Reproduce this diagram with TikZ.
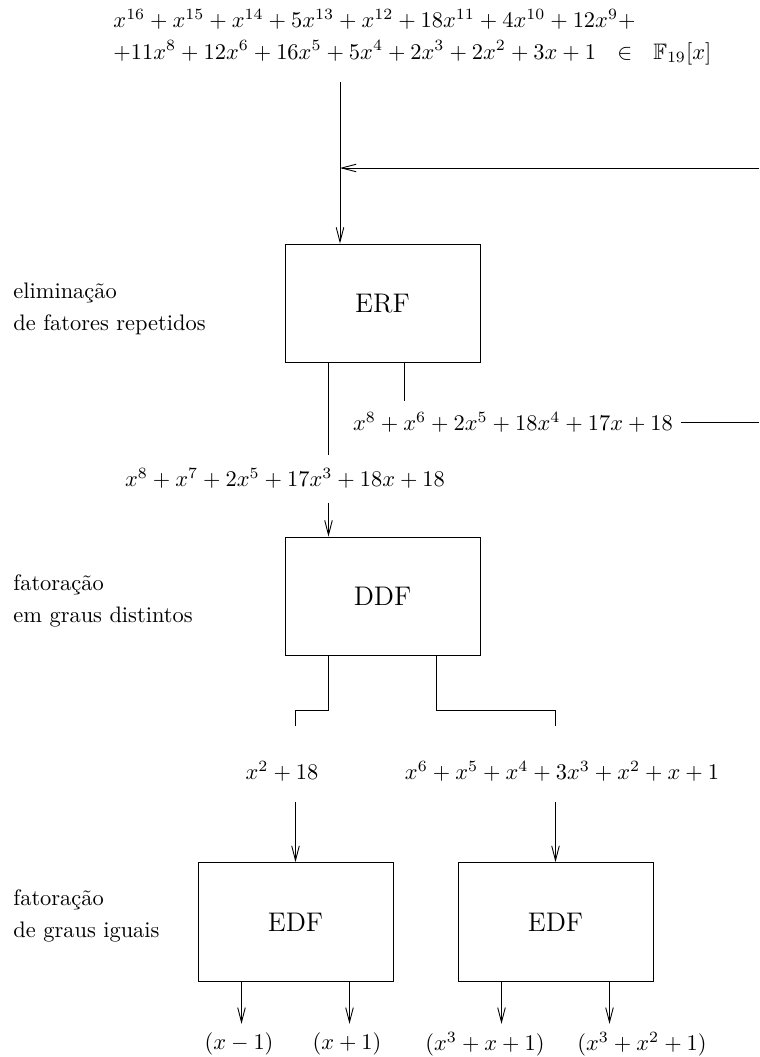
\documentclass[tikz,border=0pt]{standalone}
\usepackage{amsmath}
\usepackage{amssymb}
\usepackage{tikz}
\usetikzlibrary{arrows.meta}

\begin{document}
\begin{tikzpicture}[x=0.446pt,y=-0.446pt,thin,
                    >={Straight Barb[length=6.5pt,width=3.4pt]},
                    algo/.style={draw,minimum width=87pt,minimum height=53pt,inner sep=0pt,font=\large},
                    note/.style={align=left,anchor=west,inner sep=0pt}]
  \useasboundingbox (0,0) rectangle (759,1057);

  % input polynomial and the loop back into ERF
  \node[note] (inpoly) at (113,37)
    {$x^{16}+x^{15}+x^{14}+5x^{13}+x^{12}+18x^{11}+4x^{10}+12x^9+$\\[2pt]
     $+11x^8+12x^6+16x^5+5x^4+2x^3+2x^2+3x+1\ \ \in\ \ \mathbb{F}_{19}[x]$};
  \coordinate (start) at (340,82);
  \coordinate (feed)  at (340,168);
  \coordinate (backr) at (759,168);
  \coordinate (outr)  at (759,422);

  \node[algo] (erf)  at (382.5,303.5) {ERF};
  \node[algo] (ddf)  at (382.5,596.5) {DDF};
  \node[algo] (edfa) at (295.5,922)   {EDF};
  \node[algo] (edfb) at (555.5,922)   {EDF};

  \node[note] (lerf) at (13,309) {eliminação\\[2pt] de fatores repetidos};
  \node[note] (lddf) at (13,601) {fatoração\\[2pt] em graus distintos};
  \node[note] (ledf) at (13,916) {fatoração\\[2pt] de graus iguais};

  \node (rep) at (513,422) {$x^8+x^6+2x^5+18x^4+17x+18$};
  \node (sqf) at (285,478) {$x^8+x^7+2x^5+17x^3+18x+18$};
  \node (fa)  at (282,771) {$x^2+18$};
  \node (fb)  at (562,771) {$x^6+x^5+x^4+3x^3+x^2+x+1$};

  \node (ra) at (239,1044) {$(x-1)$};
  \node (rb) at (347,1044) {$(x+1)$};
  \node (rc) at (485,1044) {$(x^3+x+1)$};
  \node (rd) at (642,1044) {$(x^3+x^2+1)$};

  \draw[->] (start) -- (start |- erf.north);
  \draw[->] (backr) -- (feed);

  % ERF splits off the repeated part
  \draw (erf.south) ++(-54,0) -- ++(0,92);
  \draw (erf.south) ++(21.5,0) -- ++(0,38);
  \draw (rep.east) -- (outr);
  \draw[->] (ddf.north) ++(-54,-34) -- ++(0,34);

  % DDF branches
  \draw (ddf.south) ++(-54,0) -- ++(0,54) -| ([yshift=60.5pt]edfa.north);
  \draw (ddf.south) ++(54,0) -- ++(0,54) -| ([yshift=60.5pt]edfb.north);
  \draw[->] (edfa.north) ++(0,-60) -- (edfa.north);
  \draw[->] (edfb.north) ++(0,-60) -- (edfb.north);

  \foreach \s in {-54,54}{
    \draw[->] (edfa.south) ++(\s,0) -- ++(0,42);
    \draw[->] (edfb.south) ++(\s,0) -- ++(0,42);
  }
\end{tikzpicture}
\end{document}
